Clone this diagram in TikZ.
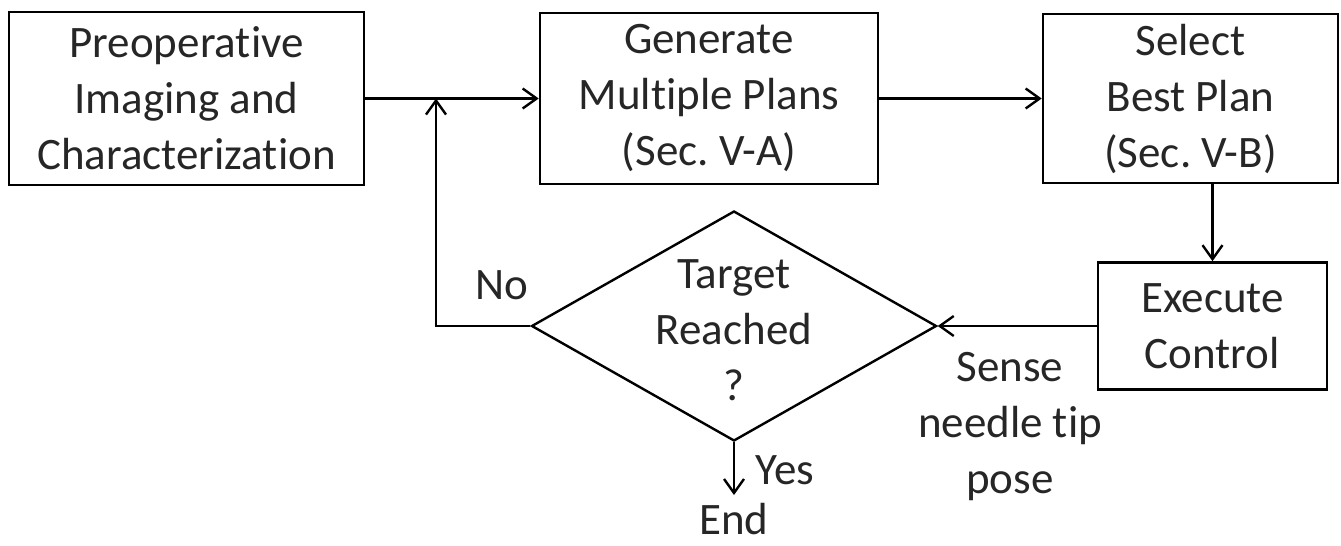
\documentclass[tikz,border=0pt]{standalone}
\usepackage{fontspec}
\setmainfont{Carlito}[Ligatures=NoCommon]
\usetikzlibrary{shapes.geometric,arrows.meta}
\begin{document}
\begin{tikzpicture}[x=1pt,y=-1pt,
  >={Straight Barb[length=14pt,width=20pt]},
  every node/.style={font=\fontsize{45pt}{56pt}\selectfont, text=black!85},
  block/.style={draw, line width=2.6pt, align=center, inner sep=0pt},
  link/.style={->, line width=2.4pt}]
\useasboundingbox (0,0) rectangle (1341,546);
\node[block, minimum width=355pt, minimum height=173pt] (imaging) at (186.5,98.5) {Preoperative\\Imaging and\\Characterization};
\node[block, minimum width=338pt, minimum height=171pt] (generate) at (709,98.5) {Generate\\Multiple Plans\\(Sec.\ V-A)};
\node[block, minimum width=295pt, minimum height=169pt] (select) at (1190.5,98.5) {Select\\Best Plan\\(Sec.\ V-B)};
\node[block, minimum width=229pt, minimum height=127pt] (execute) at (1212.5,326) {Execute\\Control};
\node[draw, diamond, line width=2.4pt, inner sep=0pt, minimum width=405pt, minimum height=230pt] (check) at (734,326) {};
\node[align=center] (checktext) at (734,330) {Target\\Reached\\?};
\node (no) at (502,285) {No};
\node (yes) at (785,470) {Yes};
\node[inner sep=8pt] (finish) at (734,519) {End};
\node[align=center] (sense) at (1010,427) {Sense\\needle tip\\pose};
\coordinate (merge) at (436,98.5);
\draw[link] (imaging) -- (generate);
\draw[link] (generate) -- (select);
\draw[link] (select.south -| execute.north) -- (execute.north);
\draw[link] (execute) -- (check.east);
\draw[link] (check.west) -| (merge);
\draw[link] (check.south) -- (finish);
\end{tikzpicture}
\end{document}
